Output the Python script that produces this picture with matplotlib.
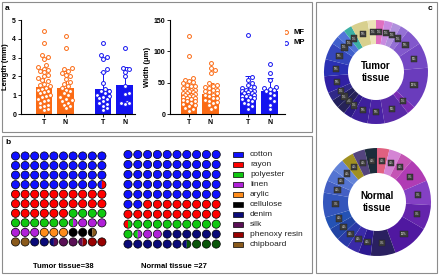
import numpy as np
import matplotlib.pyplot as plt
from matplotlib.patches import Rectangle, Circle, Wedge

plt.rcParams['font.family'] = ['Liberation Sans', 'DejaVu Sans']

W, H = 440, 276
ORANGE = "#fb6a14"
BLUE = "#1414f0"

# ---- panel a: particle length / width (MF = fibres, MP = particles; T = tumour, N = normal)
groups = ["T", "N", "T", "N"]
len_mean = [1.45, 1.38, 1.32, 1.55]
len_sd = [0.95, 0.9, 0.93, 0.95]
len_mf_t = [4.4, 3.8, 3.15, 3.05, 2.95, 2.6, 2.5, 2.4, 2.35, 2.3, 2.25, 2.1, 2.0, 1.9, 1.8,
            1.75, 1.6, 1.55, 1.5, 1.4, 1.35, 1.3, 1.2, 1.15, 1.1, 1.0, 0.95, 0.9, 0.8, 0.75,
            0.7, 0.6, 0.5, 0.45, 0.35, 0.25, 0.2]
len_mf_n = [4.15, 3.5, 2.45, 2.4, 2.3, 2.2, 2.1, 2.0, 1.85, 1.7, 1.6, 1.5, 1.4, 1.3, 1.2,
            1.1, 1.0, 0.9, 0.8, 0.75, 0.7, 0.6, 0.5, 0.4, 0.3]
len_mp_t = [3.8, 3.15, 3.05, 2.95, 2.4, 2.25, 1.65, 1.35, 1.25, 1.2, 1.1, 1.0, 0.95, 0.9,
            0.85, 0.8, 0.7, 0.6, 0.55, 0.45, 0.3, 0.2]
len_mp_n = [3.5, 2.45, 2.4, 2.25, 2.0, 1.5, 1.1, 1.05, 0.65, 0.6, 0.6, 0.55]

wid_mean = [33, 32, 37, 36]
wid_sd = [22, 18, 24, 21]
wid_mf_t = [125, 92, 58, 55, 53, 51, 49, 47, 45, 44, 42, 40, 39, 38, 37, 36, 35, 34, 33, 32,
            31, 30, 29, 28, 27, 26, 25, 24, 22, 21, 20, 18, 16, 14, 12, 10, 8, 5]
wid_mf_n = [81, 73, 70, 66, 50, 47, 45, 43, 41, 39, 38, 36, 35, 33, 31, 30, 28, 26, 25, 23,
            21, 19, 17, 14, 11, 8]
wid_mp_t = [126, 59, 54, 50, 46, 43, 41, 39, 38, 37, 36, 35, 34, 33, 31, 30, 29, 28, 27, 25,
            24, 22, 20, 18, 16, 12, 8]
wid_mp_n = [80, 66, 55, 43, 41, 40, 38, 36, 33, 30, 25, 20, 15, 8]

# ---- panel b: waffle grids (one cell = 1 %), "a/b" = split cell
fibres = ["cotton", "rayon", "polyester", "linen", "arylic", "cellulose", "denim", "silk",
          "phenoxy resin", "chipboard"]
fibre_colors = ["#1010ff", "#ff0000", "#10c810", "#b020d8", "#ff8c1a", "#000000", "#0a0a78",
                "#5a0f55", "#980000", "#8a5a1c"]
extra_colors = {"dkgreen": "#0a560a"}
tumor_rows = [
    ["cotton"] * 10,
    ["cotton"] * 10,
    ["cotton"] * 10,
    ["cotton"] * 9 + ["cotton/rayon"],
    ["rayon"] * 10,
    ["rayon"] * 10,
    ["rayon"] * 6 + ["polyester"] * 4,
    ["polyester"] * 6 + ["polyester/linen"] + ["linen"] * 3,
    ["linen"] * 3 + ["arylic"] * 3 + ["cellulose"] * 2 + ["cellulose/chipboard"],
    ["chipboard"] * 2 + ["denim"] * 2 + ["denim/silk"] + ["silk"] * 2 + ["silk/phenoxy resin"]
    + ["phenoxy resin"] * 2,
]
normal_rows = [
    ["cotton"] * 10,
    ["cotton"] * 10,
    ["cotton"] * 10,
    ["cotton"] * 10,
    ["cotton"] * 10,
    ["cotton"] * 2 + ["rayon"] * 8,
    ["rayon"] * 10,
    ["rayon/polyester"] + ["polyester"] * 9,
    ["polyester", "polyester/linen", "linen", "linen"] + ["denim"] * 6,
    ["denim"] * 6 + ["denim/dkgreen"] + ["dkgreen"] * 3,
]

# ---- panel c: donut charts (counts of particles per type, clockwise from top)
tumor_counts = [1, 1, 1, 1, 2, 3, 5, 1, 3, 2, 2, 1, 1, 1, 1, 2, 2, 2, 1, 1, 1, 2, 1]
tumor_colors = ["#e070c0", "#c88ae0", "#b090dc", "#9470d4", "#8258cc", "#7448c4", "#6a3cbc",
                "#7a2cb4", "#5a2aa8", "#4a22a6", "#3e209c", "#2c1a84", "#262258", "#22205c",
                "#302888", "#3020a4", "#2a30b4", "#3446bc", "#4060cc", "#5274d8", "#3cb0a4",
                "#d8d08e", "#ece4b8"]
normal_counts = [1, 1, 1, 2, 2, 2, 3, 2, 1, 1, 1, 1, 1, 2, 1, 1, 1, 1, 1, 1]
normal_colors = ["#e06080", "#d484d4", "#c454b4", "#b03cb4", "#8440c4", "#6424ac", "#5018a0",
                 "#2a2060", "#2c1890", "#3a2aa8", "#2a3aa8", "#2244a4", "#2452b4", "#3456bc",
                 "#4460c4", "#5474d2", "#6484d8", "#a09022", "#54447e", "#1c2c3a"]

fig = plt.figure(figsize=(W / 100, H / 100), dpi=100)
bg = fig.add_axes([0, 0, 1, 1])
bg.set_xlim(0, W)
bg.set_ylim(H, 0)
bg.axis("off")

for x, y, w, h in [(2, 2, 310, 130), (2, 136, 310, 137), (316, 2, 121, 271)]:
    bg.add_patch(Rectangle((x, y), w, h, fill=False, ec="#8c8c8c", lw=0.8))
bg.text(5, 8, "a", fontsize=6, fontweight="bold", va="center")
bg.text(5, 142, "b", fontsize=6, fontweight="bold", va="center")
bg.text(428, 9, "c", fontsize=6, fontweight="bold", va="center")


def swarm(vals, ppu, d=4.0, maxoff=7.5):
    # simple beeswarm in pixel units; crowded points are squeezed into +-maxoff
    vals = np.asarray(vals, float)
    y = vals * ppu
    xs = np.zeros(len(vals))
    done = []
    cands = [0.0] + [s * k * d * 0.5 for k in range(1, 30) for s in (1, -1)]
    cands = [c for c in cands if abs(c) <= maxoff]
    for i in np.argsort(vals):
        best, best_gap = 0.0, -1
        for c in cands:
            gap = min([np.hypot(c - xs[j], y[i] - y[j]) for j in done] or [99])
            if gap >= d:
                best = c
                break
            if gap > best_gap:
                best, best_gap = c, gap
        xs[i] = best
        done.append(i)
    return xs


pos = np.array([0, 1, 2.75, 3.75])
UNIT = 21.5  # px per x unit
bar_colors = [ORANGE, ORANGE, BLUE, BLUE]


def bar_panel(x0, x1, first_bar, means, sds, pts, ymax, yticks, ylabel):
    top, bot = 20, 114
    ax = fig.add_axes([x0 / W, 1 - bot / H, (x1 - x0) / W, (bot - top) / H])
    left = -(first_bar - x0) / UNIT
    ax.set_xlim(left, left + (x1 - x0) / UNIT)
    ax.set_ylim(0, ymax)
    ax.bar(pos, means, width=0.76, color=bar_colors, zorder=1)
    for p, m, s, c in zip(pos, means, sds, bar_colors):
        ax.errorbar(p, m, yerr=[[0], [s]], color=c, capsize=2, lw=0.7, capthick=0.7, zorder=1)
    ppu = (bot - top) / ymax
    for p, v, c in zip(pos, pts, bar_colors):
        off = swarm(v, ppu) / UNIT
        ax.plot(p + off, v, "o", ms=2.8, mfc="white", mec=c, mew=0.7, ls="none",
                zorder=3, clip_on=False)
    for s in ["top", "right"]:
        ax.spines[s].set_visible(False)
    for s in ["left", "bottom"]:
        ax.spines[s].set_linewidth(0.8)
    ax.set_yticks(yticks)
    ax.set_xticks(pos)
    ax.set_xticklabels(groups)
    ax.tick_params(length=2, width=0.6, pad=1.5, labelsize=5)
    for t in ax.get_xticklabels() + ax.get_yticklabels():
        t.set_fontweight("bold")
    ax.set_ylabel(ylabel, fontsize=5.5, fontweight="bold", labelpad=2)
    return ax


bar_panel(21, 135, 44, len_mean, len_sd, [len_mf_t, len_mf_n, len_mp_t, len_mp_n],
          5, [0, 1, 2, 3, 4, 5], "Length (mm)")
bar_panel(170, 285, 189, wid_mean, wid_sd, [wid_mf_t, wid_mf_n, wid_mp_t, wid_mp_n],
          150, [0, 50, 100, 150], "Width (μm)")

for yy, lab, c in [(32, "MF", ORANGE), (43, "MP", BLUE)]:
    bg.plot(286, yy, "o", ms=2.8, mfc="white", mec=c, mew=0.7)
    bg.text(294, yy, lab, fontsize=5.5, fontweight="bold", va="center")

# ---- panel b
cmap = dict(zip(fibres, fibre_colors))
cmap.update(extra_colors)


def waffle(rows, x0, dx, y0, dy, r=4.1):
    for j, row in enumerate(rows):
        for i, cell in enumerate(row):
            x, y = x0 + i * dx, y0 + j * dy
            parts = cell.split("/")
            if len(parts) == 1:
                bg.add_patch(Circle((x, y), r, fc=cmap[cell], ec="black", lw=0.5))
            else:
                bg.add_patch(Wedge((x, y), r, 90, 270, fc=cmap[parts[0]], lw=0))
                bg.add_patch(Wedge((x, y), r, -90, 90, fc=cmap[parts[1]], lw=0))
                bg.add_patch(Circle((x, y), r, fill=False, ec="black", lw=0.5))


waffle(tumor_rows, 15.5, 9.6, 156, 9.55)
waffle(normal_rows, 128, 9.8, 154.5, 9.95)
bg.text(63, 266, "Tumor tissue=38", fontsize=5.5, fontweight="bold", ha="center", va="center")
bg.text(174, 266, "Normal tissue =27", fontsize=5.5, fontweight="bold", ha="center",
        va="center")

for k, (name, col) in enumerate(zip(fibres, fibre_colors)):
    yy = 154 + k * 10
    bg.add_patch(Rectangle((233, yy - 2.5), 10, 5, fc=col, ec="black", lw=0.5))
    bg.text(250, yy, name, fontsize=6, va="center", color="#222222")


# ---- panel c
def donut(cx, cy, r, rin, counts, colors, title):
    ax = fig.add_axes([(cx - r) / W, 1 - (cy + r) / H, 2 * r / W, 2 * r / H])
    ax.pie(counts, colors=colors, startangle=90, counterclock=False, radius=1,
           wedgeprops=dict(width=1 - rin / r, linewidth=0),
           autopct=lambda p: f"{p:.0f}%", pctdistance=(1 + rin / r) / 2,
           textprops=dict(color="white", fontsize=2.2,
                          bbox=dict(boxstyle="square,pad=0.35", fc="#3c3c3c", ec="#222222",
                                    lw=0.3)))
    ax.set_xlim(-1, 1)
    ax.set_ylim(-1, 1)
    ax.text(0, 0, title, ha="center", va="center", fontsize=7, fontweight="bold",
            linespacing=1.15)


donut(376, 72, 52, 28, tumor_counts, tumor_colors, "Tumor\ntissue")
donut(377, 202, 54, 29, normal_counts, normal_colors, "Normal\ntissue")

fig.savefig("out.png", dpi=100)
